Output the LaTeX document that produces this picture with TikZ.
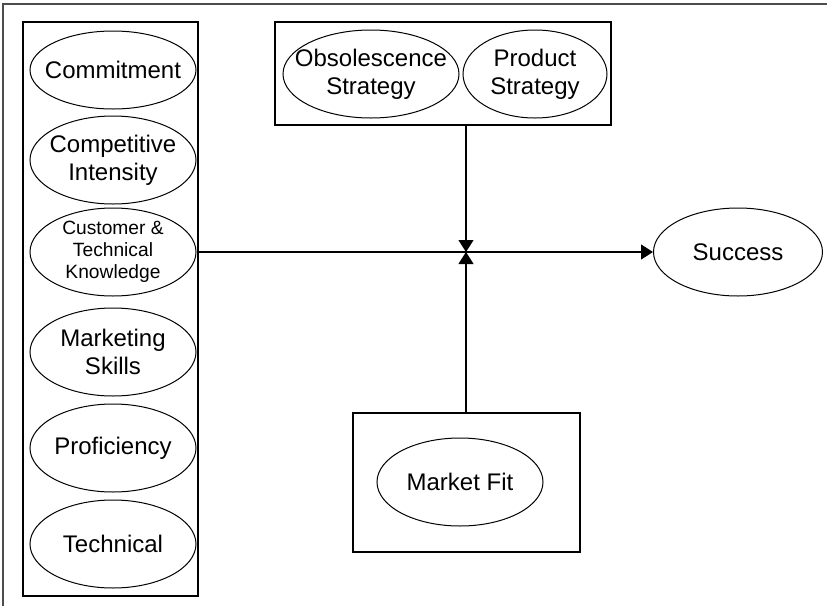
\documentclass[tikz,border=0pt]{standalone}
\usepackage{fontspec}
\setmainfont{Liberation Sans}
\usepackage{tikz}
\usetikzlibrary{shapes, arrows.meta, positioning, calc, fit, backgrounds}

\tikzset{
  factor/.style={ellipse, draw, line width=0.5pt, inner sep=-15pt,
    minimum width=83pt, minimum height=44pt, align=center,
    font=\fontsize{12}{13.8}\selectfont},
  group/.style={draw, line width=1pt, inner sep=0pt},
  link/.style={line width=0.6pt, -{Triangle[length=6pt, width=7.5pt]}}
}

\begin{document}
\begin{tikzpicture}[x=0.5pt, y=-0.5pt]
      \useasboundingbox (0,0) rectangle (827,606);
      \draw[black!70, line width=1pt] (3.5,606) -- (3.5,3.5) -- (827,3.5);
      % left column
      \node[group, minimum width=87.5pt, minimum height=287pt] (factors) at (110.5,309) {};
      \node[factor, minimum height=39pt] (commit) at (113,70) {Commitment};
      \node[factor] (compet) at (113,160) {Competitive\\Intensity};
      \node[factor, font=\fontsize{9.6}{11}\selectfont] (knowledge) at (113,252) {Customer \&\\Technical\\Knowledge};
      \node[factor] (marketing) at (113,352) {Marketing\\Skills};
      \node[factor] (profic) at (113,448) {Proficiency};
      \node[factor] (technical) at (113,544) {Technical};
      % top box
      \node[group, minimum width=168pt, minimum height=51.5pt] (strategy) at (443,73.5) {};
      \node[factor, minimum width=88pt] (obsol) at (371,74) {Obsolescence\\Strategy};
      \node[factor, minimum width=72pt] (product) at (535,74) {Product\\Strategy};
      % bottom box
      \node[group, minimum width=113.5pt, minimum height=69.5pt] (fitbox) at (466.5,482.5) {};
      \node[factor] (marketfit) at (460,482) {Market Fit};
      \node[factor, minimum width=84.5pt] (success) at (738,252) {Success};
      \coordinate (junction) at (466,252);
      \draw[link] (knowledge.east) -- (success.west);
      \draw[link] (strategy.south -| junction) -- (junction);
      \draw[link] (fitbox.north -| junction) -- (junction);
    \end{tikzpicture}
\end{document}
